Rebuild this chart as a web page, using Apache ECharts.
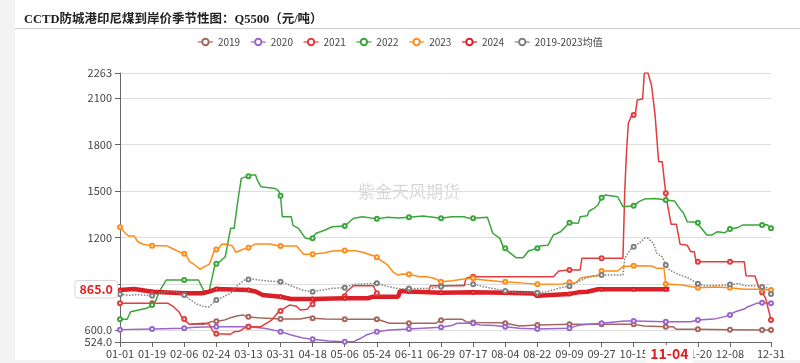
<!DOCTYPE html>
<html>
<head>
<meta charset="utf-8">
<script src="https://cdn.jsdelivr.net/npm/echarts@6/dist/echarts.min.js"></script>
<style>html,body{margin:0;padding:0;background:#fff}#c{width:800px;height:363px}</style>
</head>
<body>
<div id="c"></div>
<script>
// Categories: every day of a (leap) year, MM-DD
const categories = [];
for (let d = new Date(Date.UTC(2024, 0, 1)); d.getUTCFullYear() === 2024; d.setUTCDate(d.getUTCDate() + 1)) {
  categories.push(String(d.getUTCMonth() + 1).padStart(2, '0') + '-' + String(d.getUTCDate()).padStart(2, '0'));
}
const yTicks = [524, 600, 900, 1200, 1500, 1800, 2100, 2263];
const legendNames = ['2019', '2020', '2021', '2022', '2023', '2024', '2019-2023均值'];

// [day index, price] points
const y2019 = [[40,640],[47,638],[51,655],[54,658],[58,664],[62,681],[66,694],[69,699],[71,688],[72,688],[77,681],[90,673],[101,673],[102,681],[106,684],[108,677],[115,673],[126,671],[144,671],[146,665],[151,645],[162,645],[177,645],[179,660],[180,665],[183,671],[192,671],[194,655],[198,650],[214,649],[216,645],[224,627],[234,634],[252,638],[270,638],[288,638],[294,627],[306,623],[310,623],[312,606],[324,606],[342,604],[360,602],[365,602]];
const y2020 = [[0,604],[18,608],[36,613],[42,619],[53,623],[54,623],[72,623],[81,613],[90,591],[96,569],[102,552],[108,541],[117,530],[126,526],[131,526],[135,548],[138,569],[144,591],[151,602],[162,608],[180,619],[186,630],[189,645],[198,645],[202,634],[210,630],[216,623],[224,613],[234,608],[252,613],[255,625],[258,634],[270,645],[283,660],[288,660],[306,655],[320,655],[324,666],[333,672],[339,688],[342,699],[345,720],[350,737],[352,752],[357,774],[360,778],[365,774]];
const y2021 = [[0,774],[18,774],[27,774],[30,752],[33,720],[35,677],[36,672],[39,638],[47,645],[50,640],[52,595],[54,578],[55,574],[62,574],[64,591],[67,594],[71,623],[72,623],[79,623],[85,666],[89,720],[90,725],[92,742],[95,763],[99,755],[101,731],[105,735],[107,763],[108,768],[109,785],[113,807],[123,807],[126,820],[127,849],[131,888],[142,888],[144,839],[146,817],[156,817],[157,854],[162,854],[173,854],[174,888],[180,888],[193,888],[194,936],[197,946],[198,946],[243,946],[246,983],[252,990],[258,990],[259,1065],[270,1065],[282,1065],[283,1500],[284,1754],[285,1938],[287,1992],[288,1992],[289,2000],[290,2089],[293,2095],[294,2263],[296,2263],[298,2185],[300,1992],[302,1690],[304,1690],[306,1485],[307,1410],[309,1285],[312,1285],[314,1156],[318,1150],[320,1108],[322,1108],[323,1043],[324,1043],[342,1043],[350,1043],[351,953],[356,950],[358,881],[360,845],[362,806],[365,666]];
const y2022 = [[0,671],[4,671],[6,720],[15,742],[18,763],[20,790],[22,849],[26,925],[36,925],[44,925],[47,854],[50,854],[53,1011],[54,1030],[56,1043],[59,1075],[62,1259],[64,1259],[66,1431],[68,1582],[71,1593],[72,1595],[74,1604],[76,1604],[77,1571],[79,1528],[87,1517],[89,1500],[90,1470],[91,1334],[96,1334],[97,1278],[100,1259],[104,1194],[107,1190],[108,1195],[110,1227],[115,1248],[119,1269],[126,1274],[131,1324],[136,1334],[144,1320],[150,1330],[156,1325],[162,1330],[170,1338],[180,1324],[186,1334],[193,1334],[195,1325],[198,1324],[206,1330],[209,1227],[213,1194],[215,1134],[216,1130],[222,1069],[226,1069],[229,1112],[234,1130],[236,1147],[240,1150],[243,1216],[247,1237],[252,1295],[257,1291],[258,1334],[262,1340],[263,1371],[266,1390],[268,1410],[270,1457],[272,1474],[279,1463],[282,1399],[288,1405],[291,1431],[294,1448],[300,1452],[301,1440],[306,1442],[311,1435],[313,1399],[316,1356],[318,1302],[323,1298],[324,1295],[326,1259],[329,1216],[332,1216],[335,1237],[339,1230],[342,1255],[346,1262],[349,1280],[360,1280],[363,1282],[365,1259]];
const y2023 = [[0,1266],[3,1227],[5,1209],[8,1209],[10,1172],[13,1156],[18,1147],[26,1147],[29,1130],[35,1097],[36,1095],[37,1090],[39,1043],[42,1022],[45,994],[47,1010],[50,1026],[51,1054],[53,1119],[54,1122],[55,1125],[57,1156],[60,1158],[63,1145],[65,1104],[68,1119],[72,1134],[76,1158],[84,1158],[89,1145],[90,1145],[99,1145],[103,1091],[108,1091],[115,1101],[119,1112],[126,1115],[132,1114],[136,1104],[142,1082],[144,1072],[146,1054],[150,1022],[153,978],[156,957],[158,964],[162,962],[168,946],[172,946],[176,936],[180,914],[186,920],[192,929],[198,936],[200,929],[214,914],[216,914],[228,903],[234,897],[248,899],[252,910],[254,903],[256,910],[258,936],[262,946],[268,953],[270,983],[279,983],[282,1011],[288,1017],[298,1015],[301,1000],[305,1000],[306,899],[315,892],[324,875],[334,880],[342,875],[350,865],[360,865],[365,860]];
const y2024 = [[0,860],[8,866],[18,849],[36,839],[46,839],[50,850],[54,866],[72,860],[76,850],[80,828],[90,817],[96,802],[108,802],[126,807],[139,807],[140,800],[142,817],[156,817],[157,854],[162,850],[180,843],[198,845],[216,843],[232,837],[234,823],[252,835],[257,845],[262,849],[268,865],[270,865],[288,865],[306,865],[308,865]];
const yAvg = [[0,832],[5,826],[10,830],[18,823],[22,840],[29,854],[32,845],[36,828],[39,800],[43,770],[47,752],[50,752],[54,796],[57,810],[62,839],[66,892],[70,925],[72,928],[74,931],[78,925],[83,918],[90,914],[94,897],[102,860],[108,849],[113,860],[119,871],[126,875],[131,897],[144,903],[151,881],[157,866],[162,870],[174,870],[180,881],[186,890],[198,897],[204,881],[216,854],[224,839],[234,843],[240,850],[247,875],[252,885],[255,903],[261,936],[266,953],[270,957],[282,957],[283,1065],[286,1119],[288,1140],[292,1172],[294,1194],[296,1194],[299,1162],[301,1097],[304,1075],[306,1022],[308,990],[313,962],[319,936],[324,900],[328,888],[341,892],[342,895],[347,903],[350,888],[358,885],[360,880],[363,875],[365,835]];

const pointerDate = '11-04';
const pointerValue = 865;

const seriesData = [y2019, y2020, y2021, y2022, y2023, y2024, yAvg];
const colors = ['#a5675c', '#9a66cc', '#e23c3c', '#3aa63a', '#ff8c1a', '#dc1f26', '#808080'];
const FONT = "'Noto Sans CJK SC', 'Microsoft YaHei', sans-serif";

function buildData(pts) {
  return pts.map(([i, v]) => {
    const mark = (i % 18 === 0) || i === categories.length - 1;
    return mark ? { value: [i, v] } : { value: [i, v], symbol: 'none' };
  });
}

const series = seriesData.map((pts, k) => {
  const is2024 = k === 5, isAvg = k === 6;
  return {
    name: legendNames[k],
    type: 'line',
    data: buildData(pts),
    symbol: 'emptyCircle',
    symbolSize: is2024 ? 3 : 4,
    showSymbol: true,
    showAllSymbol: true,
    color: colors[k],
    lineStyle: { width: is2024 ? 4.5 : (isAvg ? 1.5 : 1.5), type: isAvg ? 'dotted' : 'solid', color: colors[k] },
    itemStyle: { color: colors[k], borderWidth: 1 },
    emphasis: { disabled: true },
    animation: false
  };
});

const chart = echarts.init(document.getElementById('c'), null, { renderer: 'canvas' });
chart.setOption({
  animation: false,
  backgroundColor: '#fff',
  title: {
    text: 'CCTD防城港印尼煤到岸价季节性图：Q5500（元/吨）',
    left: 19, top: 9,
    textStyle: { fontSize: 12.5, fontWeight: 'bold', color: '#222', fontFamily: "'Liberation Serif', 'Noto Sans CJK SC', serif" }
  },
  graphic: [
    { type: 'rect', shape: { x: 0, y: 0, width: 15, height: 363 }, style: { fill: '#f3f3f3' }, silent: true, z: -10 },
    { type: 'rect', shape: { x: 0, y: 360, width: 800, height: 3 }, style: { fill: '#f3f3f3' }, silent: true, z: -10 },
    { type: 'line', shape: { x1: 15, y1: 28.5, x2: 800, y2: 28.5 }, style: { stroke: '#cccccc', lineWidth: 1 }, silent: true },
    { type: 'text', x: 409, y: 192, style: { text: '紫金天风期货', fill: 'rgba(0,0,0,0.16)', font: "17px 'Noto Sans CJK SC', sans-serif", textAlign: 'center', textVerticalAlign: 'middle' }, silent: true, z: -1 }
  ],
  legend: {
    data: legendNames,
    left: 'center', top: 32,
    itemWidth: 15, itemHeight: 8, itemGap: 10,
    lineStyle: { type: 'solid', width: 1.2 },
    itemStyle: { borderWidth: 1 },
    textStyle: { fontSize: 10, color: '#444', fontFamily: FONT }
  },
  grid: { left: 120, right: 29, top: 73, bottom: 21 },
  xAxis: {
    type: 'category',
    data: categories,
    boundaryGap: false,
    axisLine: { lineStyle: { color: '#666' } },
    axisTick: { interval: 17, lineStyle: { color: '#666' } },
    axisLabel: { interval: 17, showMaxLabel: true, fontSize: 11, color: '#444', fontFamily: FONT, margin: 6 },
    splitLine: { show: false },
    axisPointer: {
      show: true, type: 'line', status: 'show', value: pointerDate, triggerTooltip: false,
      lineStyle: { color: 'rgba(0,0,0,0)', width: 0 },
      label: { show: true, color: '#e0201f', fontWeight: 'bold', fontSize: 14, fontFamily: FONT, backgroundColor: '#fff', padding: [2, 5, 2, 5], margin: 3 }
    }
  },
  yAxis: {
    type: 'value',
    min: 524, max: 2263,
    axisLine: { show: true, lineStyle: { color: '#666' } },
    axisTick: { show: true, customValues: yTicks, lineStyle: { color: '#666' } },
    axisLabel: {
      customValues: yTicks, fontSize: 11, color: '#444', fontFamily: FONT,
      formatter: v => (v < 1000 ? v.toFixed(1) : String(v))
    },
    splitLine: { lineStyle: { color: '#dedede' } },
    axisPointer: {
      show: true, type: 'line', status: 'show', value: pointerValue, triggerTooltip: false,
      lineStyle: { color: 'rgba(0,0,0,0)', width: 0 },
      label: { show: true, color: '#e0201f', fontWeight: 'bold', fontSize: 12.5, fontFamily: FONT, backgroundColor: '#fff', borderColor: '#d8d8d8', borderWidth: 1, padding: [2, 4, 2, 4], margin: 3,
        formatter: p => Number(p.value).toFixed(1) }
    }
  },
  series: series
});
</script>
</body>
</html>
